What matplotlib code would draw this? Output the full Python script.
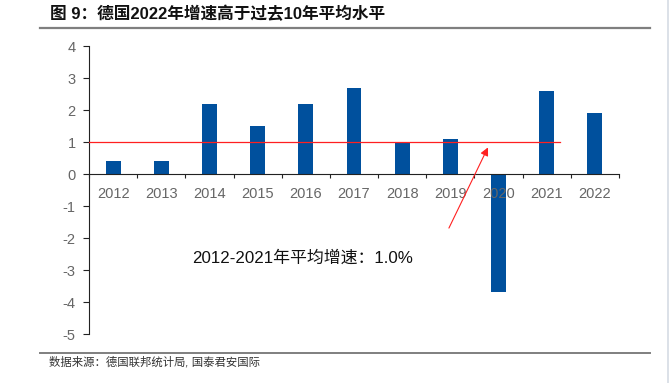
import numpy as np
import matplotlib.pyplot as plt
from matplotlib.lines import Line2D

plt.rcParams['font.family'] = ['Liberation Sans', 'Noto Sans CJK SC', 'DejaVu Sans']

years = ['2012', '2013', '2014', '2015', '2016', '2017',
         '2018', '2019', '2020', '2021', '2022']
growth = [0.4, 0.4, 2.2, 1.5, 2.2, 2.7, 1.0, 1.1, -3.7, 2.6, 1.9]
avg_growth = 1.0
yticks = [4, 3, 2, 1, 0, -1, -2, -3, -4, -5]

title = '图 9：德国2022年增速高于过去10年平均水平'
note = '2012-2021年平均增速：1.0%'
source = '数据来源：德国联邦统计局, 国泰君安国际'

bar_color = '#00509D'
grey_text = '#666666'

fig = plt.figure(figsize=(6.71, 3.83), dpi=100)
ax = fig.add_axes([89 / 671, 1 - 334 / 383, 530 / 671, 288 / 383])
ax.set_axisbelow(False)  # tick labels sit on top of the 2020 bar

x = np.arange(len(years))
ax.bar(x, growth, width=0.31, color=bar_color, zorder=2)

# average line (stops just past the 2021 bar)
ax.plot([-0.5, 9.27], [avg_growth, avg_growth], color='#FF2020', lw=0.9, zorder=3)

ax.set_xlim(-0.5, len(years) - 0.5)
ax.set_ylim(-5, 4)

# spines
for s in ['top', 'right']:
    ax.spines[s].set_visible(False)
ax.spines['bottom'].set_position(('data', 0))
ax.spines['bottom'].set_color('#222222')
ax.spines['left'].set_color('#222222')

# y axis
ax.set_yticks(yticks)
ax.set_yticklabels([str(v) for v in yticks])
ax.tick_params(axis='y', direction='out', length=4.5, width=0.8,
               pad=5, labelsize=10.5, labelcolor=grey_text, color='#222222')

# x axis: ticks at category boundaries, labels in the middle
ax.set_xticks(np.arange(-0.5, len(years), 1.0))
ax.set_xticklabels([])
ax.tick_params(axis='x', which='major', direction='out', length=3, width=0.8, color='#222222')
ax.set_xticks(x, minor=True)
ax.set_xticklabels(years, minor=True)
ax.tick_params(axis='x', which='minor', length=0, pad=9.5,
               labelsize=10.5, labelcolor=grey_text)

# annotation
ax.annotate('', xy=(7.78, 0.83), xytext=(6.97, -1.69),
            arrowprops=dict(arrowstyle='-|>', color='#FF2020', lw=0.8,
                            mutation_scale=12, shrinkA=0, shrinkB=0),
            zorder=4)
ax.text(1.64, -2.63, note, fontsize=12.2, color='#111111', ha='left', va='center')

# title, rules and source
fig.text(50 / 671, 1 - 14 / 383, title, fontsize=12, fontweight='bold',
         ha='left', va='center', color='#111111')
fig.add_artist(Line2D([40 / 671, 650 / 671], [1 - 28 / 383, 1 - 28 / 383],
                      color='#7F7F7F', lw=1.6))
fig.add_artist(Line2D([40 / 671, 650 / 671], [1 - 353 / 383, 1 - 353 / 383],
                      color='#7F7F7F', lw=1.4))
fig.text(49 / 671, 1 - 362 / 383, source, fontsize=8.2, ha='left', va='center',
         color='#333333', style='italic')

# faint page edge on the right
fig.add_artist(Line2D([668 / 671, 668 / 671], [0, 1], color='#D5DCE4', lw=1.2))

fig.savefig('out.png', dpi=100)
